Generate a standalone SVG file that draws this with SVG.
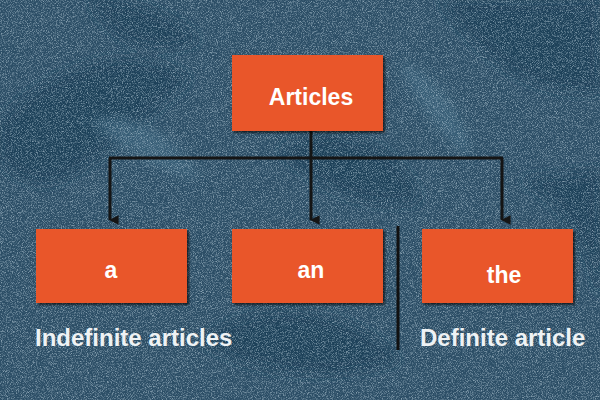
<svg xmlns="http://www.w3.org/2000/svg" width="600" height="400" viewBox="0 0 600 400">
<style>
.box{fill:#e9572a;filter:url(#shadow)}
.lbl{font-family:"Liberation Sans","DejaVu Sans",sans-serif;font-weight:bold;font-size:23px;fill:#ffffff;text-anchor:middle}
.cap{font-family:"Liberation Sans","DejaVu Sans",sans-serif;font-weight:bold;font-size:24px;fill:#eef2f4}
.conn{fill:none;stroke:#151515;stroke-width:3}
</style>
<defs>
<filter id="shadow" x="-10%" y="-10%" width="130%" height="140%">
<feDropShadow dx="2" dy="2" stdDeviation="1.2" flood-color="#000" flood-opacity="0.6"/>
</filter>
<filter id="noise" x="0" y="0" width="100%" height="100%">
<feTurbulence type="fractalNoise" baseFrequency="1.2" numOctaves="2" seed="3" result="n"/>
<feColorMatrix type="matrix" values="0 0 0 0 0.55  0 0 0 0 0.68  0 0 0 0 0.76  0 0 0 -2.6 1.45" />
</filter>
<filter id="blur"><feGaussianBlur stdDeviation="6"/></filter>
<marker id="arr" viewBox="0 0 10 10" refX="5" refY="9" markerWidth="3.2" markerHeight="3.2" orient="auto-start-reverse" markerUnits="strokeWidth">
<path d="M0,0 L10,0 L5,10 z" fill="#151515"/>
</marker>
</defs>
<rect width="600" height="400" fill="#2c4e66"/>
<g fill="#1f3f58" filter="url(#blur)" opacity="0.9">
<path d="M0,120 C60,60 140,40 190,80 C150,110 120,150 60,180 C30,190 10,170 0,160 z"/>
<path d="M90,0 C110,40 150,60 200,40 C180,20 140,0 90,0 z"/>
<path d="M280,150 C330,120 400,140 420,200 C380,210 330,200 280,150 z"/>
<path d="M200,340 C260,300 340,300 400,360 C340,380 260,380 200,340 z"/>
<path d="M440,0 C480,60 540,100 600,90 L600,0 z"/>
<path d="M520,180 C560,200 590,240 600,300 L600,170 z"/>
</g>
<g fill="#3f6780" filter="url(#blur)" opacity="0.7">
<path d="M90,120 C140,110 180,140 200,180 C160,170 120,150 90,120 z"/>
<path d="M400,60 C440,80 470,120 470,160 C440,130 410,100 400,60 z"/>
</g>
<rect width="600" height="400" filter="url(#noise)" opacity="0.6"/>
<g id="connectors">
<path class="conn" d="M311,131 V158"/>
<path class="conn" d="M109,158 H503"/>
<path class="conn" d="M110,158 V220" marker-end="url(#arr)"/>
<path class="conn" d="M311,158 V220" marker-end="url(#arr)"/>
<path class="conn" d="M502,158 V220" marker-end="url(#arr)"/>
<path d="M398,226 V350" stroke="#111" stroke-width="3"/>
</g>
<g id="node-articles">
<rect class="box" x="232" y="55" width="151" height="76"/>
<text class="lbl" x="311" y="105">Articles</text>
</g>
<g id="node-a">
<rect class="box" x="36" y="229" width="151" height="74"/>
<text class="lbl" x="111" y="278">a</text>
</g>
<g id="node-an">
<rect class="box" x="232" y="229" width="151" height="74"/>
<text class="lbl" x="311" y="278">an</text>
</g>
<g id="node-the">
<rect class="box" x="422" y="229" width="151" height="74"/>
<text class="lbl" x="504" y="283">the</text>
</g>
<text class="cap" x="35" y="346">Indefinite articles</text>
<text class="cap" x="420" y="346">Definite article</text>
</svg>
